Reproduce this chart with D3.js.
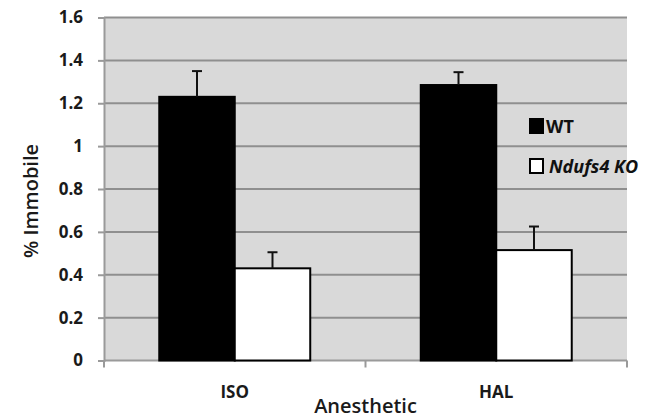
<!DOCTYPE html>
<html>
<head>
<meta charset="utf-8">
<script src="https://cdn.jsdelivr.net/npm/d3@7"></script>
<style>
  body { margin: 0; background: #fff; }
  svg { font-family: "Open Sans", sans-serif; }
</style>
</head>
<body>
<svg id="chart"></svg>
<script>
const categories = ["ISO", "HAL"];
const seriesNames = ["WT", "Ndufs4 KO"];
const wtValues = [1.23, 1.285];
const wtErrors = [0.12, 0.06];
const koValues = [0.43, 0.515];
const koErrors = [0.075, 0.11];
const yTicks = [0, 0.2, 0.4, 0.6, 0.8, 1, 1.2, 1.4, 1.6];

const width = 656;
const height = 419;
const svg = d3.select("#chart").attr("width", width).attr("height", height);

const margin = { top: 17.5, right: 29, bottom: 58.5, left: 104 };
const plotRight = width - margin.right;
const plotBottom = height - margin.bottom;

const x = d3.scaleBand().domain(categories).range([margin.left, plotRight]);
const x1 = d3.scaleBand().domain(seriesNames).range([0, x.bandwidth()]).paddingOuter(0.732);
const y = d3.scaleLinear().domain([0, 1.6]).range([plotBottom, margin.top]);

// plot background
svg.append("rect")
  .attr("x", margin.left)
  .attr("y", margin.top)
  .attr("width", plotRight - margin.left)
  .attr("height", plotBottom - margin.top)
  .attr("fill", "#d9d9d9");

// gridlines
svg.append("g")
  .selectAll("line")
  .data(yTicks.filter((d) => d > 0))
  .enter()
  .append("line")
  .attr("x1", margin.left)
  .attr("x2", plotRight)
  .attr("y1", (d) => y(d))
  .attr("y2", (d) => y(d))
  .attr("stroke", "#8f8f8f")
  .attr("stroke-width", 2);

// y axis
const yAxis = svg.append("g")
  .attr("transform", `translate(${margin.left},0)`)
  .call(d3.axisLeft(y).tickValues(yTicks).tickSize(6).tickPadding(15).tickFormat((d) => String(d)));
yAxis.select(".domain").attr("stroke", "#9a9a9a").attr("stroke-width", 2);
yAxis.selectAll(".tick line").attr("stroke", "#9a9a9a").attr("stroke-width", 2);
yAxis.selectAll(".tick text")
  .attr("fill", "#1a1a1a")
  .attr("font-size", 17)
  .attr("font-weight", "bold")
  .attr("font-family", "Open Sans");

// x axis
const xAxisG = svg.append("g").attr("transform", `translate(0,${plotBottom})`);
xAxisG.append("line")
  .attr("x1", margin.left)
  .attr("x2", plotRight)
  .attr("stroke", "#9a9a9a")
  .attr("stroke-width", 2);
const xTickPos = [margin.left, ...categories.slice(1).map((c) => x(c)), plotRight];
xAxisG.selectAll(".xtick")
  .data(xTickPos)
  .enter()
  .append("line")
  .attr("x1", (d) => d)
  .attr("x2", (d) => d)
  .attr("y1", 0)
  .attr("y2", 7)
  .attr("stroke", "#9a9a9a")
  .attr("stroke-width", 2);
xAxisG.selectAll(".xlabel")
  .data(categories)
  .enter()
  .append("text")
  .attr("x", (d) => x(d) + x.bandwidth() / 2)
  .attr("y", 37)
  .attr("text-anchor", "middle")
  .attr("font-size", 17)
  .attr("font-weight", "bold")
  .attr("fill", "#1a1a1a")
  .text((d) => d);

// bars
const barData = [];
categories.forEach((c, i) => {
  barData.push({ cat: c, series: seriesNames[0], value: wtValues[i], err: wtErrors[i] });
  barData.push({ cat: c, series: seriesNames[1], value: koValues[i], err: koErrors[i] });
});

const barG = svg.append("g");
barG.selectAll("rect")
  .data(barData)
  .enter()
  .append("rect")
  .attr("x", (d) => x(d.cat) + x1(d.series))
  .attr("y", (d) => y(d.value))
  .attr("width", x1.bandwidth())
  .attr("height", (d) => y(0) - y(d.value))
  .attr("fill", (d) => (d.series === "WT" ? "#000" : "#fff"))
  .attr("stroke", "#000")
  .attr("stroke-width", 2);

// error bars (upper only)
const errG = svg.append("g").attr("stroke", "#111").attr("stroke-width", 2);
barData.forEach((d) => {
  const cx = x(d.cat) + x1(d.series) + x1.bandwidth() / 2;
  errG.append("line")
    .attr("x1", cx).attr("x2", cx)
    .attr("y1", y(d.value)).attr("y2", y(d.value + d.err));
  errG.append("line")
    .attr("x1", cx - 5).attr("x2", cx + 5)
    .attr("y1", y(d.value + d.err)).attr("y2", y(d.value + d.err));
});

// legend
const legend = svg.append("g").attr("transform", "translate(529,118)");
seriesNames.forEach((name, i) => {
  const row = legend.append("g").attr("transform", `translate(0,${i * 40})`);
  row.append("rect")
    .attr("x", 1).attr("y", 1)
    .attr("width", 13).attr("height", 14)
    .attr("fill", i === 0 ? "#000" : "#fff")
    .attr("stroke", "#000")
    .attr("stroke-width", 2);
  const t = row.append("text")
    .attr("x", i === 0 ? 17 : 20)
    .attr("y", 15)
    .attr("font-size", 18)
    .attr("font-weight", "bold")
    .attr("fill", "#111");
  if (i === 0) {
    t.text(name);
  } else {
    t.attr("font-style", "italic").text(name);
  }
});

// axis titles
svg.append("text")
  .attr("x", x(categories[1]))
  .attr("y", 413)
  .attr("text-anchor", "middle")
  .attr("font-size", 20)
  .attr("font-weight", 600)
  .attr("fill", "#1a1a1a")
  .text("Anesthetic");

svg.append("text")
  .attr("transform", `translate(38,${(margin.top + plotBottom) / 2 + 12}) rotate(-90)`)
  .attr("text-anchor", "middle")
  .attr("font-size", 20)
  .attr("font-weight", 600)
  .attr("fill", "#1a1a1a")
  .text("% Immobile");
</script>
</body>
</html>
